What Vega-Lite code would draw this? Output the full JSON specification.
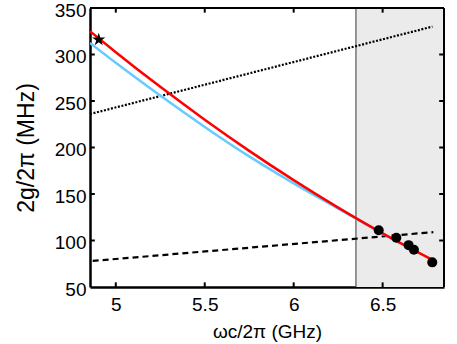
{
  "$schema": "https://vega.github.io/schema/vega-lite/v6.json",
  "width": 354,
  "height": 279,
  "autosize": {"type": "none"},
  "padding": {"left": 90, "top": 8, "right": 13, "bottom": 57},
  "background": "white",
  "config": {
    "view": {"stroke": null},
    "font": "Liberation Sans",
    "axis": {"grid": false, "domainColor": "black", "domainWidth": 2.5, "ticks": false, "labelColor": "black", "titleColor": "black", "labelFont": "Liberation Sans", "titleFont": "Liberation Sans", "titleFontWeight": "normal"}
  },
  "datasets": {
    "shade": [{"x": 6.35, "x2": 6.845, "y": 50, "y2": 350}],
    "hframe": [{"x": 4.855, "x2": 6.845, "y": 350}],
    "vframe": [{"x": 6.845, "y": 50, "y2": 350}],
    "vline": [{"x": 6.35}],
    "xticks": [
      {"x": 5, "y": 50, "y2": 55}, {"x": 5.5, "y": 50, "y2": 55}, {"x": 6, "y": 50, "y2": 55}, {"x": 6.5, "y": 50, "y2": 55},
      {"x": 5, "y": 350, "y2": 345}, {"x": 5.5, "y": 350, "y2": 345}, {"x": 6, "y": 350, "y2": 345}, {"x": 6.5, "y": 350, "y2": 345}
    ],
    "yticks": [
      {"x": 4.855, "x2": 4.882, "y": 100}, {"x": 4.855, "x2": 4.882, "y": 150}, {"x": 4.855, "x2": 4.882, "y": 200}, {"x": 4.855, "x2": 4.882, "y": 250}, {"x": 4.855, "x2": 4.882, "y": 300},
      {"x": 6.845, "x2": 6.818, "y": 100}, {"x": 6.845, "x2": 6.818, "y": 150}, {"x": 6.845, "x2": 6.818, "y": 200}, {"x": 6.845, "x2": 6.818, "y": 250}, {"x": 6.845, "x2": 6.818, "y": 300}
    ],
    "dotted": [{"x": 4.855, "y": 236}, {"x": 6.78, "y": 330}],
    "dashed": [{"x": 4.87, "y": 78}, {"x": 6.785, "y": 109}],
    "blue": [
      {"x": 4.855, "y": 312.5}, {"x": 5.0, "y": 291.1}, {"x": 5.25, "y": 255.8}, {"x": 5.5, "y": 222.1},
      {"x": 5.75, "y": 190.4}, {"x": 6.0, "y": 161.4}, {"x": 6.25, "y": 134.3}, {"x": 6.5, "y": 107.4}, {"x": 6.6, "y": 97}
    ],
    "red": [
      {"x": 4.855, "y": 325}, {"x": 5.0, "y": 302.5}, {"x": 5.25, "y": 265.2}, {"x": 5.5, "y": 229.9},
      {"x": 5.75, "y": 196.4}, {"x": 6.0, "y": 164.9}, {"x": 6.25, "y": 135.3}, {"x": 6.5, "y": 107.6}, {"x": 6.8, "y": 77.1}
    ],
    "dots": [{"x": 6.478, "y": 111}, {"x": 6.577, "y": 103}, {"x": 6.646, "y": 95}, {"x": 6.676, "y": 90}, {"x": 6.779, "y": 76.5}],
    "star": [{"x": 4.904, "y": 316}]
  },
  "layer": [
    {
      "data": {"name": "shade"},
      "mark": {"type": "rect", "fill": "#EBEBEB"},
      "encoding": {
        "x": {"field": "x", "type": "quantitative", "scale": {"domain": [4.855, 6.845], "nice": false, "zero": false},
              "axis": {"orient": "bottom", "values": [5, 5.5, 6, 6.5], "format": ".1~f", "labelPadding": 8, "labelFontSize": 19, "title": "ωc/2π (GHz)", "titleFontSize": 19, "titleBaseline": "alphabetic", "titleY": 50}},
        "x2": {"field": "x2"},
        "y": {"field": "y", "type": "quantitative", "scale": {"domain": [50, 350], "nice": false, "zero": false},
              "axis": {"orient": "left", "values": [50, 100, 150, 200, 250, 300, 350], "labelPadding": 4, "labelOffset": 2, "labelFontSize": 19, "title": "2g/2π (MHz)", "titleFontSize": 23, "titleX": -52}},
        "y2": {"field": "y2"}
      }
    },
    {
      "data": {"name": "vline"},
      "mark": {"type": "rule", "color": "#555555", "strokeWidth": 1.2},
      "encoding": {
        "x": {"field": "x", "type": "quantitative"}
      }
    },
    {
      "data": {"name": "dotted"},
      "mark": {"type": "line", "color": "black", "strokeWidth": 2.2, "strokeDash": [2, 1.6], "clip": true},
      "encoding": {
        "x": {"field": "x", "type": "quantitative"},
        "y": {"field": "y", "type": "quantitative"}
      }
    },
    {
      "data": {"name": "dashed"},
      "mark": {"type": "line", "color": "black", "strokeWidth": 2.2, "strokeDash": [6, 4], "clip": true},
      "encoding": {
        "x": {"field": "x", "type": "quantitative"},
        "y": {"field": "y", "type": "quantitative"}
      }
    },
    {
      "data": {"name": "blue"},
      "mark": {"type": "line", "color": "#66CCFF", "strokeWidth": 2.5, "interpolate": "monotone", "clip": true},
      "encoding": {
        "x": {"field": "x", "type": "quantitative"},
        "y": {"field": "y", "type": "quantitative"}
      }
    },
    {
      "data": {"name": "red"},
      "mark": {"type": "line", "color": "#FF0000", "strokeWidth": 2.5, "interpolate": "monotone", "clip": true},
      "encoding": {
        "x": {"field": "x", "type": "quantitative"},
        "y": {"field": "y", "type": "quantitative"}
      }
    },
    {
      "data": {"name": "dots"},
      "mark": {"type": "point", "shape": "circle", "filled": true, "color": "black", "size": 100, "opacity": 1},
      "encoding": {
        "x": {"field": "x", "type": "quantitative"},
        "y": {"field": "y", "type": "quantitative"}
      }
    },
    {
      "data": {"name": "star"},
      "mark": {"type": "point", "shape": "M0,-1L0.2245,-0.309L0.9511,-0.309L0.3633,0.118L0.5878,0.809L0,0.382L-0.5878,0.809L-0.3633,0.118L-0.9511,-0.309L-0.2245,-0.309Z", "filled": true, "color": "black", "size": 190, "opacity": 1},
      "encoding": {
        "x": {"field": "x", "type": "quantitative"},
        "y": {"field": "y", "type": "quantitative"}
      }
    },
    {
      "data": {"name": "xticks"},
      "mark": {"type": "rule", "color": "black", "strokeWidth": 2},
      "encoding": {
        "x": {"field": "x", "type": "quantitative"},
        "y": {"field": "y", "type": "quantitative"},
        "y2": {"field": "y2"}
      }
    },
    {
      "data": {"name": "yticks"},
      "mark": {"type": "rule", "color": "black", "strokeWidth": 2},
      "encoding": {
        "x": {"field": "x", "type": "quantitative"},
        "x2": {"field": "x2"},
        "y": {"field": "y", "type": "quantitative"}
      }
    },
    {
      "data": {"name": "hframe"},
      "mark": {"type": "rule", "color": "black", "strokeWidth": 2},
      "encoding": {
        "x": {"field": "x", "type": "quantitative"},
        "x2": {"field": "x2"},
        "y": {"field": "y", "type": "quantitative"}
      }
    },
    {
      "data": {"name": "vframe"},
      "mark": {"type": "rule", "color": "black", "strokeWidth": 2},
      "encoding": {
        "x": {"field": "x", "type": "quantitative"},
        "y": {"field": "y", "type": "quantitative"},
        "y2": {"field": "y2"}
      }
    }
  ]
}
